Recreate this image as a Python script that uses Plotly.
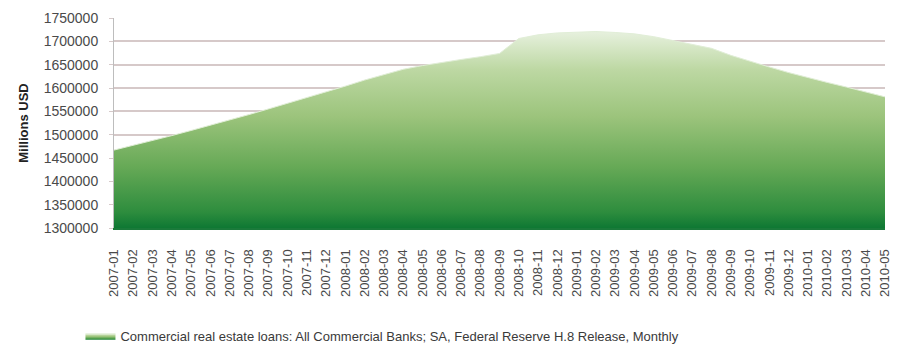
import plotly.graph_objects as go

months = [f"{y}-{m:02d}" for y in (2007, 2008, 2009, 2010) for m in range(1, 13)][:41]

loans = [
    1467000, 1477000, 1488000, 1498000, 1509000, 1520000, 1531000, 1543000,
    1555000, 1567000, 1579000, 1591000, 1604000, 1617000, 1629000, 1640000,
    1648000, 1655000, 1661000, 1667000, 1674000, 1706000, 1714000, 1718000,
    1720000, 1721000, 1719000, 1716000, 1710000, 1702000, 1694000, 1685000,
    1670000, 1657000, 1645000, 1633000, 1622000, 1612000, 1602000, 1592000,
    1581000,
]

series_name = ("Commercial real estate loans: All Commercial Banks; SA, "
               "Federal Reserve H.8 Release, Monthly")

y_ticks = list(range(1300000, 1750001, 50000))

fig = go.Figure()
fig.add_trace(go.Scatter(
    x=months, y=loans, name=series_name, mode="lines",
    line=dict(color="rgba(225,238,215,1)", width=1),
    fill="tozeroy",
    fillgradient=dict(
        type="vertical", start=1300000, stop=1735000,
        colorscale=[[0, "#0e7833"], [0.08, "#2e8d3e"], [0.3, "#66a956"],
                    [0.55, "#9cc47c"], [0.78, "#bdd8a3"], [1, "#eef5e8"]],
    ),
    showlegend=True,
))

font_family = "Liberation Sans, Arial, sans-serif"

fig.update_layout(
    width=902, height=348,
    margin=dict(l=114, r=17, t=18, b=120, autoexpand=False),
    paper_bgcolor="white", plot_bgcolor="white",
    font=dict(family=font_family, color="#4a4a4a", size=14),
    showlegend=True,
    legend=dict(orientation="h", x=-0.0435, xanchor="left",
                yref="container", y=0.078, yanchor="top",
                font=dict(size=13, color="#3a3a3a"), itemwidth=30,
                bgcolor="rgba(0,0,0,0)"),
    xaxis=dict(
        type="category", categoryorder="array", categoryarray=months,
        range=[0, 40], tickangle=-90, tickfont=dict(size=13, color="#4a4a4a"),
        showgrid=False, showline=True, linecolor="#1a7a3a", linewidth=2,
        ticks="", ticklabelstandoff=14, fixedrange=True, automargin=False,
    ),
    yaxis=dict(
        range=[1300000, 1750000], tickvals=y_ticks,
        ticktext=[str(v) for v in y_ticks],
        tickfont=dict(size=14, color="#4a4a4a"),
        showgrid=True, gridcolor="#d6c9c9", gridwidth=1.5,
        showline=True, linecolor="#bdbdbd", linewidth=1,
        ticks="outside", ticklen=4, tickcolor="#d6c9c9",
        ticklabelstandoff=8, zeroline=False, automargin=False,
        title=dict(text="<b>Millions USD</b>", font=dict(size=13, color="#222"),
                   standoff=12),
    ),
)

fig.write_html("out.html")
